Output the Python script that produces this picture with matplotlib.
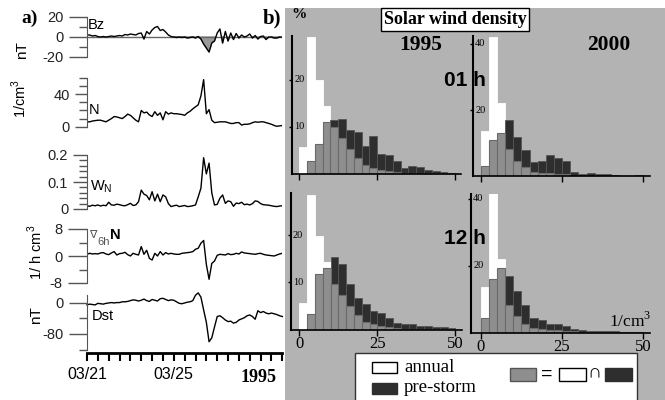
import numpy as np
import matplotlib
matplotlib.use("Agg")
import matplotlib.pyplot as plt
from matplotlib.patches import Rectangle

# ---- panel a: 3-hourly series, 1995-03-21 .. 1995-03-30 ----
hours = np.arange(73) * 3

bz = [2, 2, 1, 1.5, 0.5, 0, 0.5, 0, 0.5, 1,
      0.5, 1, 1.5, 1, 2.5, 2, 3, 2.5, 2, 3.5,
      4, -2, 5.5, 3, 7, 9.5, 10.5, 6.5, 7.5, 5,
      2, 0.5, 0, -0.5, 0, -0.5, 0, -1, -0.5, 0,
      -1, 0.5, -2, -7, -11, -15, -6, -4, 4, 8,
      -6, 5.5, -4, 4, -2.5, 3.5, -1, 2, 0, 1,
      3, -1, 1.5, -2, 0.5, 1, -2.5, 0, 0, -1,
      -1, 0, 0]

dens = [6, 6, 7, 7.5, 8, 8, 7, 6, 8, 10,
        12.5, 12, 11, 10, 12.5, 15.5, 14, 11, 8, 6,
        20, 17, 18, 14.5, 12.5, 18.5, 14, 17, 8.5, 18.5,
        15.5, 17, 16, 16, 15.5, 15, 14, 17, 19, 22,
        24.5, 27, 38, 58, 16, 21, 8, 5, 5.5, 6,
        6, 6, 5, 4, 4, 5, 5, 2, 3, 3,
        3.5, 5, 6, 5.5, 6, 6, 5, 4, 3, 1.5,
        0.5, 1, 1.5]

wn = [0.012, 0.010, 0.014, 0.012, 0.015, 0.011, 0.014, 0.012, 0.025, 0.015,
      0.014, 0.018, 0.016, 0.013, 0.012, 0.016, 0.021, 0.013, 0.015, 0.027,
      0.070, 0.055, 0.050, 0.034, 0.064, 0.030, 0.055, 0.027, 0.052, 0.045,
      0.020, 0.009, 0.012, 0.014, 0.009, 0.011, 0.013, 0.009, 0.010, 0.012,
      0.015, 0.045, 0.077, 0.190, 0.130, 0.170, 0.060, 0.015, 0.017, 0.040,
      0.052, 0.021, 0.030, 0.027, 0.010, 0.022, 0.020, 0.025, 0.016, 0.018,
      0.015, 0.020, 0.030, 0.028, 0.020, 0.016, 0.015, 0.014, 0.012, 0.010,
      0.009, 0.011, 0.012]

grad = [0.5, 0.8, 0.6, 0.7, 0.6, 0.9, 1.0, 0.6, 0.4, 0.9,
        1.3, 0.3, 0.7, 0.8, 1.1, 0.4, 0.0, 0.8, 0.5, 0.3,
        2.8, 0.5, 1.7, -0.7, -1.2, 0.8, 0.0, 1.3, 0.3, 1.0,
        0.6, 0.8, 0.6, 0.5, 0.5, 0.8, 0.9, 1.0, 1.1, 1.3,
        2.0, 2.3, 3.8, 4.6, -2.5, -6.9, -2.2, -1.5, 0.2, 0.5,
        0.4, 0.3, 0.7, 0.4, 0.5, 0.8, 0.6, 1.2, 0.9, 0.8,
        0.7, 0.6, 0.5, 0.7, 0.8, 0.5, 0.3, 0.2, 0.1, 0.0,
        0.3, 0.6, 0.8]

dst = [-5, -3, -4, -5, -1, -2, -3, -1, 0, 1,
       0, 1, 1, 3, 3, 4, 6, 8, 7, 5,
       7, 10, 6, 4, 9, 7, 5, 11, 12, 9,
       6, 8, 7, 3, -1, -2, 0, 2, 3, 6,
       20, 26, 15, -18, -50, -100, -90, -62, -35, -33,
       -38, -44, -48, -47, -52, -50, -44, -41, -38, -33,
       -31, -35, -42, -20, -25, -22, -26, -28, -26, -28,
       -30, -33, -35]

# ---- panel b: density histograms, % per 2.5 /cm3 bin ----
bin_left = [0, 2.5, 5, 7.5, 10, 12.5, 15, 17.5, 20, 22.5,
            25, 27.5, 30, 32.5, 35, 37.5, 40, 42.5, 45, 47.5]

annual_95_01 = [5.7, 29, 20, 14.4, 10, 7.5, 5.3, 3.2, 1.8, 1.1,
                0.7, 0.5, 0.4, 0.2, 0.2, 0.1, 0.1, 0.1, 0.05, 0.05]
storm_95_01 = [0, 2.7, 6.3, 11, 11.4, 11.6, 9.3, 8.9, 5.9, 8.0,
               4.1, 3.9, 2.7, 1.2, 1.6, 1.4, 0.7, 0.6, 0.3, 0.2]
annual_00_01 = [13.6, 42, 22.2, 8.4, 4.8, 3.0, 1.5, 1.2, 1.0, 0.8,
                0.7, 0.3, 0.2, 0.2, 0.2, 0.1, 0.1, 0.1, 0.1, 0.1]
storm_00_01 = [3.3, 11.1, 13.1, 17, 11.8, 8, 4.3, 4.8, 6.6, 5.6,
               4.8, 1.5, 0.7, 1.0, 0.8, 0.8, 0.6, 0.2, 0.2, 0.6]
annual_95_12 = [5.6, 28.6, 19.8, 14.3, 9.6, 7.3, 5.1, 3.0, 1.6, 1.1,
                0.8, 0.5, 0.3, 0.2, 0.2, 0.1, 0.1, 0.1, 0.05, 0.05]
storm_95_12 = [0, 3.2, 11.8, 13.1, 15.5, 13.9, 9.7, 6.8, 5.5, 3.9,
               3.5, 2.5, 1.3, 1.1, 1.1, 0.8, 0.8, 0.6, 0.5, 0.3]
annual_00_12 = [13.6, 41.6, 22, 8.3, 4.8, 2.6, 1.3, 1.0, 0.8, 0.6,
                0.4, 0.3, 0.2, 0.2, 0.1, 0.1, 0.1, 0.1, 0.1, 0.05]
storm_00_12 = [4.3, 16, 19.3, 17, 12.3, 8.1, 4.3, 3.8, 2.6, 2.6,
               1.8, 1.1, 0.6, 0.4, 0.4, 0.4, 0.4, 0.2, 0.2, 0.1]

W, H = 665, 400
SANS = ["Liberation Sans", "DejaVu Sans"]
SERIF = ["Liberation Serif", "DejaVu Serif"]
plt.rcParams["font.family"] = SANS
plt.rcParams["axes.unicode_minus"] = False


def box(x0, y0, x1, y1):
    return [x0 / W, 1 - y1 / H, (x1 - x0) / W, (y1 - y0) / H]


def ftext(x, y, s, **kw):
    kw.setdefault("va", "center")
    return fig.text(x / W, 1 - y / H, s, **kw)


def frect(x0, y0, x1, y1, **kw):
    r = Rectangle((x0 / W, 1 - y1 / H), (x1 - x0) / W, (y1 - y0) / H,
                  transform=fig.transFigure, **kw)
    fig.patches.append(r)


fig = plt.figure(figsize=(6.65, 4), dpi=100)
frect(285, 8, 665, 400, facecolor="#b3b3b3", edgecolor="none", zorder=-5)

days = hours / 24.0
AX_GRAY = "#555555"


def ts_axis(pos, ylim, major, minor, labels, tick_len):
    ax = fig.add_axes(box(*pos))
    ax.patch.set_alpha(0)
    ax.set_xlim(0, 9)
    ax.set_ylim(*ylim)
    for s in ["top", "right", "bottom"]:
        ax.spines[s].set_visible(False)
    ax.spines["left"].set_color(AX_GRAY)
    ax.set_xticks([])
    ax.set_yticks(major)
    ax.set_yticklabels(labels)
    ax.set_yticks(minor, minor=True)
    ax.tick_params(axis="y", which="major", length=tick_len, width=1, color=AX_GRAY,
                   labelsize=10.5, pad=3.5, labelcolor="#222222")
    ax.tick_params(axis="y", which="minor", length=6, width=1, color=AX_GRAY)
    return ax


ax1 = ts_axis((87, 17, 282.3, 57), (-20, 20), [-20, 0, 20], [-10, 10],
              ["-20", "0", "20"], 13)
bz_arr = np.array(bz)
ax1.axhline(0, color="#666666", lw=1)
ax1.fill_between(days, bz_arr, 0, where=bz_arr < 0, interpolate=True, color="#999999")
ax1.plot(days, bz_arr, color="black", lw=1)

ax2 = ts_axis((87, 78, 282.3, 126.7), (0, 60), [0, 40], [10, 20, 30, 50, 60],
              ["0", "40"], 9)
ax2.plot(days, dens, color="black", lw=1)

ax3 = ts_axis((87, 155, 282.3, 209), (0, 0.2), [0, 0.1, 0.2],
              [0.02, 0.04, 0.06, 0.08, 0.12, 0.14, 0.16, 0.18], ["0", "0.1", "0.2"], 10)
ax3.plot(days, wn, color="black", lw=1)

ax4 = ts_axis((87, 229, 282.3, 283), (-8, 8), [-8, 0, 8], [-4, 4], ["-8", "0", "8"], 14)
ax4.plot(days, grad, color="black", lw=1)

ax5 = ts_axis((87, 295.2, 282.3, 349.5), (-120, 20), [-80, 0], [-120, -40], ["-80", "0"], 13)
ax5.plot(days, dst, color="black", lw=1, clip_on=False)
ax5.spines["bottom"].set_visible(True)
ax5.spines["bottom"].set_linewidth(2)
ax5.spines["bottom"].set_position(("outward", 2.5))
ax5.set_xticks([0, 4])
ax5.set_xticklabels(["03/21", "03/25"])
ax5.set_xticks(np.arange(0, 9.01, 0.5), minor=True)
ax5.tick_params(axis="x", which="both", direction="out", length=6, width=1.5,
                color="black", labelsize=11.5, pad=4)

ftext(21, 18, "a)", family=SERIF, weight="bold", fontsize=14)
ftext(88, 25, "Bz", fontsize=10.5)
ftext(89, 110, "N", fontsize=10.5)
ftext(90, 187, "W$_\\mathregular{N}$", fontsize=10.5)
ftext(89, 235, "\u2207", fontsize=8, color="#555555")
ftext(97, 242, "6h", fontsize=8, color="#555555")
ftext(110, 235, "N", fontsize=10.5, weight="bold")
ftext(92, 316, "Dst", fontsize=10.5)
ftext(22, 50, "nT", rotation=90, ha="center", fontsize=11)
ftext(19, 98, "1/cm$^\\mathregular{3}$", rotation=90, ha="center", fontsize=10.5)
ftext(35, 252, "1/ h cm$^\\mathregular{3}$", rotation=90, ha="center", fontsize=10.5)
ftext(36, 315, "nT", rotation=90, ha="center", fontsize=11)
ftext(259, 377, "1995", ha="center", family=SERIF, weight="bold", fontsize=13)


# ---- panel b ----
def hist_axis(pos, xlim, ylim, yticks, annual, storm, xlabels):
    ax = fig.add_axes(box(*pos))
    ax.patch.set_alpha(0)
    ax.set_xlim(*xlim)
    ax.set_ylim(*ylim)
    for s in ["top", "right"]:
        ax.spines[s].set_visible(False)
    ax.spines["left"].set_linewidth(1.5)
    ax.spines["bottom"].set_linewidth(1.2)
    a = np.array(annual)
    p = np.array(storm)
    hi = np.maximum(a, p)
    lo = np.minimum(a, p)
    cols = ["white" if ai >= pi else "#2e2e2e" for ai, pi in zip(a, p)]
    edges = ["white" if ai >= pi else "#555555" for ai, pi in zip(a, p)]
    ax.bar(bin_left, hi, width=2.5, align="edge", color=cols, edgecolor=edges, linewidth=0.6)
    ax.bar(bin_left, lo, width=2.5, align="edge", color="#8e8e8e", edgecolor="#6a6a6a", linewidth=0.8)
    ax.set_yticks(yticks)
    ax.set_yticklabels([])
    ax.tick_params(axis="y", direction="out", length=2.5, width=1)
    for v in yticks:
        ax.annotate(str(v), xy=(0, v), xycoords=("axes fraction", "data"),
                    xytext=(1.5, 0), textcoords="offset points", ha="left", va="center",
                    family=SERIF, fontsize=7.5)
    ax.set_xticks([0, 25, 50])
    ax.tick_params(axis="x", direction="out", length=4, width=1)
    if xlabels:
        ax.set_xticklabels(["0", "25", "50"], family=SERIF, fontsize=12)
        ax.tick_params(axis="x", pad=1)
    else:
        ax.set_xticklabels([])
    return ax


hist_axis((292, 36.3, 461.4, 173.5), (-2.3, 52), (0, 29.2), [10, 20],
          annual_95_01, storm_95_01, False)
hist_axis((473, 36.3, 650, 176.5), (-2.36, 52), (0, 42.3), [20, 40],
          annual_00_01, storm_00_01, False)
hist_axis((290.7, 193.5, 461.6, 329.5), (-2.76, 52), (0, 28.9), [10, 20],
          annual_95_12, storm_95_12, True)
hist_axis((471, 193.5, 649.8, 332.5), (-2.98, 52), (0, 41.5), [20, 40],
          annual_00_12, storm_00_12, True)

ftext(263, 18, "b)", family=SERIF, weight="bold", fontsize=15)
ftext(291, 15, "%", family=SERIF, weight="bold", fontsize=11)
ftext(455, 19.5, "Solar wind density", ha="center", family=SERIF, weight="bold", fontsize=13,
      bbox=dict(boxstyle="square,pad=0.15", facecolor="white", edgecolor="black", linewidth=1))
ftext(421, 45, "1995", ha="center", family=SERIF, weight="bold", fontsize=15.5)
ftext(609, 45, "2000", ha="center", family=SERIF, weight="bold", fontsize=15.5)
ftext(465, 81, "01 h", ha="center", weight="bold", fontsize=15)
ftext(465, 239, "12 h", ha="center", weight="bold", fontsize=15)
ftext(630, 321, "1/cm$^\\mathregular{3}$", ha="center", family=SERIF, fontsize=12.5)

# legend box
frect(355, 353, 637, 402, facecolor="white", edgecolor="#333333", linewidth=1, zorder=3)
frect(372, 362, 397, 373, facecolor="white", edgecolor="black", linewidth=1, zorder=4)
frect(372, 383, 397, 394, facecolor="#2e2e2e", edgecolor="#2e2e2e", linewidth=1, zorder=4)
ftext(404, 367, "annual", family=SERIF, fontsize=13.5, zorder=5)
ftext(404, 388, "pre-storm", family=SERIF, fontsize=13.5, zorder=5)
frect(510, 368, 536, 381, facecolor="#8e8e8e", edgecolor="#555555", linewidth=1, zorder=4)
ftext(547, 374, "=", ha="center", fontsize=14, zorder=5)
frect(559, 368, 586, 381, facecolor="white", edgecolor="black", linewidth=1, zorder=4)
ftext(594, 374, "\u2229", ha="center", fontsize=14, zorder=5)
frect(605, 368, 632, 381, facecolor="#2e2e2e", edgecolor="#2e2e2e", linewidth=1, zorder=4)

fig.savefig("out.png", dpi=100)
